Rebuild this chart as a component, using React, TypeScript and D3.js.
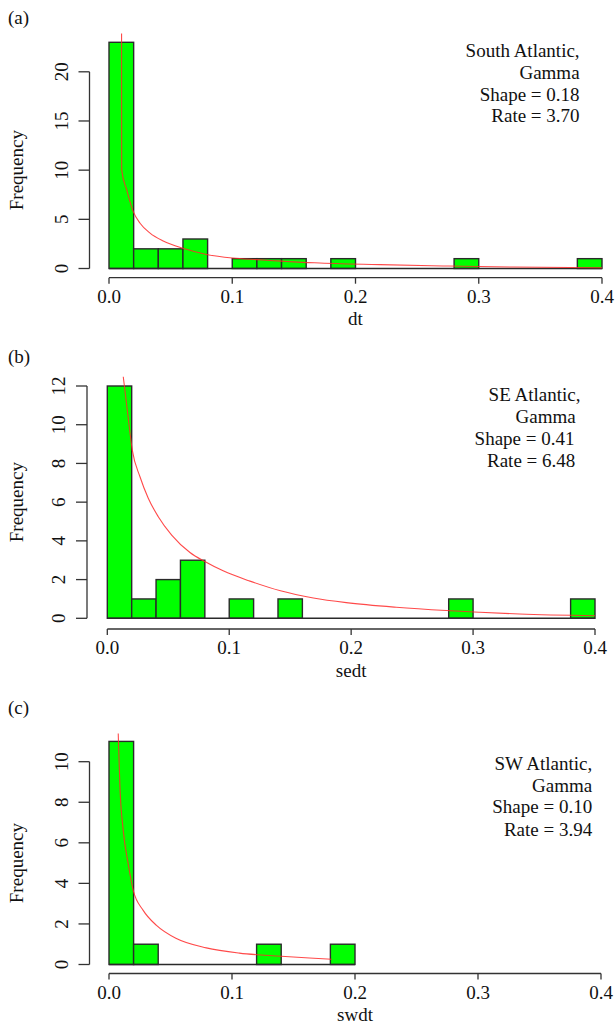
import React, { useEffect, useRef } from 'react';
import * as d3 from 'd3';

// histogram counts, one per 0.02-wide bin
const dtCounts = [23, 2, 2, 3, 0, 1, 1, 1, 0, 1, 0, 0, 0, 0, 1, 0, 0, 0, 0, 1];
const sedtCounts = [12, 1, 2, 3, 0, 1, 0, 1, 0, 0, 0, 0, 0, 0, 1, 0, 0, 0, 0, 1];
const swdtCounts = [11, 1, 0, 0, 0, 0, 1, 0, 0, 1];

// fitted gamma curves: [x, frequency]
const dtCurve = [
  [0.0102, 23.9], [0.0103, 10.0], [0.0144, 7.98], [0.0197, 5.78], [0.0252, 4.6],
  [0.0333, 3.6], [0.044, 2.8], [0.06, 2.05], [0.08, 1.4], [0.1, 1.07],
  [0.12, 0.9], [0.14, 0.75], [0.15, 0.67], [0.171, 0.56], [0.22, 0.39],
  [0.271, 0.26], [0.328, 0.15], [0.4, 0.08],
];
const sedtCurve = [
  [0.0131, 12.48], [0.0167, 10.59], [0.0205, 8.69], [0.0268, 7.31], [0.0336, 6.2],
  [0.0418, 5.25], [0.0528, 4.3], [0.0678, 3.4], [0.08, 2.93], [0.095, 2.45],
  [0.117, 1.92], [0.142, 1.42], [0.169, 1.05], [0.196, 0.81], [0.237, 0.57],
  [0.278, 0.4], [0.3055, 0.31], [0.338, 0.22], [0.4, 0.13],
];
const swdtCurve = [
  [0.0075, 11.39], [0.0089, 8.74], [0.0116, 6.6], [0.0156, 4.97], [0.0197, 3.65],
  [0.0278, 2.67], [0.0386, 1.93], [0.0548, 1.28], [0.0791, 0.82], [0.106, 0.56],
  [0.14, 0.41], [0.163, 0.32], [0.181, 0.26],
];

const xTicks = [0, 0.1, 0.2, 0.3, 0.4];
const dtYTicks = [0, 5, 10, 15, 20];
const sedtYTicks = [0, 2, 4, 6, 8, 10, 12];
const swdtYTicks = [0, 2, 4, 6, 8, 10];

const dtLegend = ['South Atlantic,', 'Gamma', 'Shape = 0.18', 'Rate = 3.70'];
const sedtLegend = ['SE Atlantic,', 'Gamma', 'Shape = 0.41', 'Rate = 6.48'];
const swdtLegend = ['SW Atlantic,', 'Gamma', 'Shape = 0.10', 'Rate = 3.94'];

const binWidth = 0.02;
const FONT = '"Liberation Serif", "Times New Roman", serif';

// page layout for each panel (pixels)
const panels = [
  {
    tag: '(a)', xlab: 'dt', counts: dtCounts, curve: dtCurve, yTicks: dtYTicks, legend: dtLegend,
    x0: 109, x1: 602, yZero: 268.5, yMaxPx: 71.8, top: 33, yAxisX: 89.5, xAxisY: 277.7,
    tagY: 24, legendRight: [579.6, 579.6, 579.6, 579.6], legendY: [57.3, 79, 100.7, 122.3],
  },
  {
    tag: '(b)', xlab: 'sedt', counts: sedtCounts, curve: sedtCurve, yTicks: sedtYTicks, legend: sedtLegend,
    x0: 107.3, x1: 595, yZero: 618.3, yMaxPx: 386, top: 376, yAxisX: 87, xAxisY: 629,
    tagY: 363, legendRight: [580.4, 575.7, 574.5, 575.3], legendY: [401, 423.3, 445, 466.7],
  },
  {
    tag: '(c)', xlab: 'swdt', counts: swdtCounts, curve: swdtCurve, yTicks: swdtYTicks, legend: swdtLegend,
    x0: 109, x1: 601, yZero: 964.5, yMaxPx: 761.7, top: 731, yAxisX: 89.5, xAxisY: 973.5,
    tagY: 714, legendRight: [592.2, 592.2, 592.2, 592.2], legendY: [770, 791.7, 813.3, 835.7],
  },
];

const App = () => {
  const ref = useRef(null);

  useEffect(() => {
    const root = d3.select(ref.current);
    root.selectAll('*').remove();

    const svg = root
      .append('svg')
      .attr('width', 615)
      .attr('height', 1026)
      .style('position', 'absolute')
      .style('left', 0)
      .style('top', 0)
      .style('background', '#fff')
      .style('font-family', FONT);

    panels.forEach((p, i) => {
      const yMaxTick = p.yTicks[p.yTicks.length - 1];
      const x = d3.scaleLinear().domain([0, 0.4]).range([p.x0, p.x1]);
      const y = d3.scaleLinear().domain([0, yMaxTick]).range([p.yZero, p.yMaxPx]);
      const g = svg.append('g');

      // clip for the curve (plot region)
      const clipId = `clip-${i}`;
      svg.append('clipPath').attr('id', clipId)
        .append('rect')
        .attr('x', p.x0 - 20).attr('y', p.top)
        .attr('width', p.x1 - p.x0 + 40).attr('height', p.yZero - p.top + 5);

      // bars
      g.selectAll('rect.bar')
        .data(p.counts.map((c, k) => ({ lo: k * binWidth, hi: (k + 1) * binWidth, c })))
        .enter()
        .filter(d => d.c > 0)
        .append('rect')
        .attr('class', 'bar')
        .attr('x', d => x(d.lo))
        .attr('width', d => x(d.hi) - x(d.lo))
        .attr('y', d => y(d.c))
        .attr('height', d => y(0) - y(d.c))
        .attr('fill', '#00ff00')
        .attr('stroke', '#2a2a2a')
        .attr('stroke-width', 1.4);

      // empty bins still draw a baseline in R's hist
      g.append('line')
        .attr('x1', x(0)).attr('x2', x(p.counts.length * binWidth))
        .attr('y1', y(0)).attr('y2', y(0))
        .attr('stroke', '#2a2a2a').attr('stroke-width', 1.4);

      // gamma curve
      const line = d3.line().x(d => x(d[0])).y(d => y(d[1])).curve(d3.curveMonotoneX);
      g.append('path')
        .attr('d', line(p.curve))
        .attr('fill', 'none')
        .attr('stroke', '#ff2a2a')
        .attr('stroke-opacity', 0.85)
        .attr('stroke-width', 1.1)
        .attr('clip-path', `url(#${clipId})`);

      // x axis
      g.append('line')
        .attr('x1', x(0)).attr('x2', x(0.4))
        .attr('y1', p.xAxisY).attr('y2', p.xAxisY)
        .attr('stroke', '#333').attr('stroke-width', 1.3);
      xTicks.forEach(t => {
        g.append('line')
          .attr('x1', x(t)).attr('x2', x(t))
          .attr('y1', p.xAxisY).attr('y2', p.xAxisY + 6)
          .attr('stroke', '#333').attr('stroke-width', 1.3);
        g.append('text')
          .attr('x', x(t)).attr('y', p.xAxisY + 25)
          .attr('text-anchor', 'middle')
          .attr('font-size', 19)
          .attr('fill', '#111')
          .text(d3.format('.1f')(t));
      });
      g.append('text')
        .attr('x', (x(0) + x(0.4)) / 2).attr('y', p.xAxisY + 47.5)
        .attr('text-anchor', 'middle')
        .attr('font-size', 19)
        .attr('fill', '#111')
        .text(p.xlab);

      // y axis
      g.append('line')
        .attr('x1', p.yAxisX).attr('x2', p.yAxisX)
        .attr('y1', y(0)).attr('y2', y(yMaxTick))
        .attr('stroke', '#333').attr('stroke-width', 1.3);
      p.yTicks.forEach(t => {
        g.append('line')
          .attr('x1', p.yAxisX - 11).attr('x2', p.yAxisX)
          .attr('y1', y(t)).attr('y2', y(t))
          .attr('stroke', '#333').attr('stroke-width', 1.3);
        g.append('text')
          .attr('transform', `translate(${p.yAxisX - 22},${y(t)}) rotate(-90)`)
          .attr('text-anchor', 'middle')
          .attr('font-size', 19)
          .attr('fill', '#111')
          .text(t);
      });
      g.append('text')
        .attr('transform', `translate(22.5,${(y(0) + y(yMaxTick)) / 2}) rotate(-90)`)
        .attr('text-anchor', 'middle')
        .attr('font-size', 19)
        .attr('fill', '#111')
        .text('Frequency');

      // panel tag
      g.append('text')
        .attr('x', 8).attr('y', p.tagY)
        .attr('font-size', 19)
        .attr('fill', '#111')
        .text(p.tag);

      // legend text
      p.legend.forEach((s, k) => {
        g.append('text')
          .attr('x', p.legendRight[k]).attr('y', p.legendY[k])
          .attr('text-anchor', 'end')
          .attr('font-size', 19)
          .attr('fill', '#111')
          .text(s);
      });
    });
  }, []);

  return <div ref={ref}></div>;
};

export default App;
